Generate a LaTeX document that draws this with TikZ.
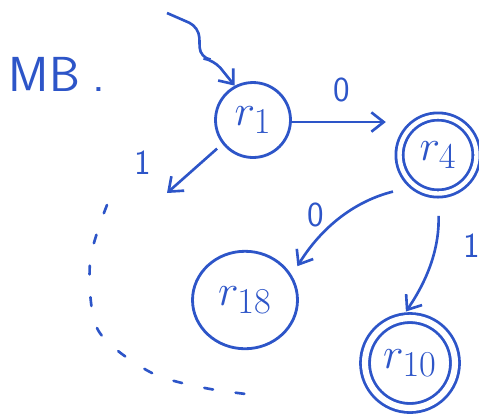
\documentclass[tikz,border=0pt]{standalone}
\usepackage{tikz}
\usetikzlibrary{arrows.meta,shapes.geometric}

\definecolor{ink}{RGB}{45,85,200}

\tikzset{
	state/.style={circle,draw=ink,line width=1.6pt,minimum size=1.5cm,inner sep=0pt,text=ink,font=\fontsize{28}{30}\selectfont},
	accepting/.style={double=white,double distance=2.5pt},
	edge/.style={draw=ink,line width=1.5pt,-{Straight Barb[length=7pt,width=11pt]}},
	lbl/.style={text=ink,font=\sffamily\fontsize{20}{22}\selectfont}
}

\begin{document}
\begin{tikzpicture}[x=0.02cm,y=-0.02cm]
					\useasboundingbox (0,0) rectangle (479,414);
					
					% Title
					\node[text=ink,font=\sffamily\fontsize{28}{30}\selectfont] (title) at (57,74) {MB\hspace{0.25cm}.};
					
					% Draw states
					\node[state] (r1) at (253,120) {$r_1$};
					\node[state,accepting,minimum size=1.54cm] (r4) at (438,155) {$r_4$};
					\node[state,ellipse,minimum width=2.1cm,minimum height=1.95cm] (r18) at (245,300) {$r_{18}$};
					\node[state,accepting,double distance=3.5pt,minimum size=1.8cm] (r10) at (410,363) {$r_{10}$};
					
					% Start arrow
					\coordinate (start) at (167,13);
					\draw[edge,rounded corners=6pt] (start) -- (199,27) -- (200,58) -- (214,60) -- (r1.118);
					
					% Draw transitions
					\coordinate (q1) at (167,193);
					\draw[edge,shorten >=7pt] (r1.357) -- (r1.357 -| r4.west);
					\draw[edge,shorten <=4pt] (r1.218) -- (q1);
					\draw[edge,shorten <=12pt,shorten >=6pt] (r4.232) to[bend right=22] (r18.28);
					\draw[edge,shorten <=12pt,shorten >=4pt] (r4.270) to[bend left=18] (r10.100);
					
					% Label transitions
					\node[lbl] (l0a) at (342,90) {0};
					\node[lbl] (l1a) at (143,163) {1};
					\node[lbl] (l0b) at (316,215) {0};
					\node[lbl] (l1b) at (472,246) {1};
					
					% Unfinished part
					\draw[ink,line width=1.5pt,dash pattern=on 5pt off 13pt,line cap=round]
						plot[smooth] coordinates {(107,205) (90,262) (98,330) (150,372) (205,388) (263,396)};
				\end{tikzpicture}
\end{document}
